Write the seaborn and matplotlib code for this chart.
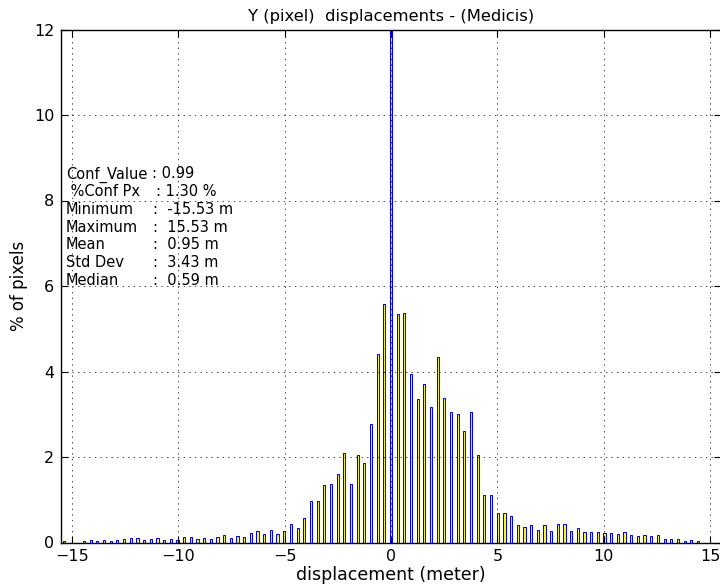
import numpy as np
import pandas as pd
import matplotlib
matplotlib.use("Agg")
import matplotlib.pyplot as plt
import seaborn as sns

# ---- data ----
x_range = (-15.53, 15.53)   # histogram range
n_bins = 99
pct_pixels = [
    0.03, 0.0, 0.0, 0.035, 0.06, 0.04, 0.06, 0.04, 0.06, 0.09,
    0.115, 0.115, 0.065, 0.085, 0.115, 0.065, 0.085, 0.07, 0.12, 0.12,
    0.08, 0.11, 0.085, 0.12, 0.18, 0.11, 0.155, 0.13, 0.22, 0.26,
    0.19, 0.30, 0.19, 0.26, 0.43, 0.33, 0.58, 0.97, 0.97, 1.34,
    1.36, 1.60, 2.09, 1.36, 2.04, 1.86, 2.78, 4.42, 5.57, 13.0,
    5.34, 5.37, 3.95, 3.36, 3.70, 3.16, 4.33, 3.38, 3.05, 3.01,
    2.60, 3.05, 2.04, 1.11, 1.11, 0.68, 0.70, 0.63, 0.41, 0.37,
    0.40, 0.30, 0.40, 0.27, 0.43, 0.43, 0.28, 0.35, 0.25, 0.25,
    0.25, 0.23, 0.23, 0.20, 0.25, 0.18, 0.155, 0.18, 0.155, 0.18,
    0.085, 0.085, 0.085, 0.04, 0.055, 0.03, 0.0, 0.0, 0.0,
]
x_ticks = [-15, -10, -5, 0, 5, 10, 15]
y_ticks = [0, 2, 4, 6, 8, 10, 12]
stat_labels = ["Conf_Value", " %Conf Px", "Minimum", "Maximum", "Mean", "Std Dev", "Median"]
stat_values = [": 0.99", ": 1.30 %", ":  -15.53 m", ":  15.53 m", ":  0.95 m", ":  3.43 m", ":  0.59 m"]
title_text = "Y (pixel)  displacements - (Medicis)"
x_label = "displacement (meter)"
y_label = "% of pixels"

edges = np.linspace(x_range[0], x_range[1], n_bins + 1)
centers = (edges[:-1] + edges[1:]) / 2
df = pd.DataFrame({"displacement": centers, "pct": pct_pixels})

# ---- style ----
plt.rcParams["lines.scale_dashes"] = False
plt.rcParams["font.family"] = ["DejaVu Sans"]

W, H = 720, 584
fig = plt.figure(figsize=(W / 100, H / 100), dpi=100)
ax = fig.add_axes([60.7 / W, (H - 542.5) / H, 660.6 / W, 513 / H])

sns.histplot(data=df, x="displacement", weights="pct", bins=n_bins,
             binrange=x_range, shrink=0.32, color="yellow",
             edgecolor="blue", linewidth=0.75, alpha=1, ax=ax)

ax.set_xlim(*x_range)
ax.set_ylim(0, 12)
ax.set_xticks(x_ticks)
ax.set_yticks(y_ticks)
ax.tick_params(direction="in", top=True, right=True, length=5, width=0.8,
               labelsize=11.5)
ax.tick_params(axis="x", pad=5)
ax.tick_params(axis="y", pad=4.5)
ax.grid(True, color="black", linewidth=0.5, linestyle=(0, (1, 3)))
ax.set_axisbelow(False)
for s in ax.spines.values():
    s.set_linewidth(1.0)
    s.set_color("black")

ax.set_title(title_text, fontsize=11.8)
ax.set_xlabel(x_label, fontsize=12.5, labelpad=1.3)
ax.set_ylabel(y_label, fontsize=12, labelpad=4.5)

# ---- stats box text ----
baselines = [178.5, 196.2, 213.8, 231.6, 249.4, 267.2, 285.0]
colon_x = [152.5, 155.8, 153.2, 153.2, 153.2, 153.2, 153.2]
for lab, val, yb, cx in zip(stat_labels, stat_values, baselines, colon_x):
    fig.text(66 / W, 1 - yb / H, lab, fontsize=10.5, va="baseline", ha="left")
    fig.text(cx / W, 1 - yb / H, val, fontsize=10.5, va="baseline", ha="left")

fig.savefig("out.png", dpi=100)
